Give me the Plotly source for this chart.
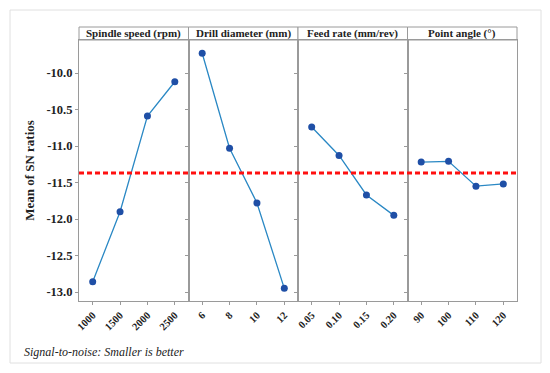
import plotly.graph_objects as go
from plotly.subplots import make_subplots

factors = ["Spindle speed (rpm)", "Drill diameter (mm)", "Feed rate (mm/rev)", "Point angle (°)"]
levels = [
    ["1000", "1500", "2000", "2500"],
    ["6", "8", "10", "12"],
    ["0.05", "0.10", "0.15", "0.20"],
    ["90", "100", "110", "120"],
]
sn_means = [
    [-12.86, -11.90, -10.59, -10.12],
    [-9.73, -11.03, -11.78, -12.95],
    [-10.74, -11.13, -11.67, -11.95],
    [-11.22, -11.21, -11.55, -11.52],
]
overall_mean = -11.37
y_ticks = [-10.0, -10.5, -11.0, -11.5, -12.0, -12.5, -13.0]

W, H = 550, 373
OFF = 8  # page body margin
L, T = 79 - OFF, 40 - OFF
plot_w, plot_h = 438, 261
R = W - L - plot_w
B = H - T - plot_h
fig = make_subplots(rows=1, cols=4, shared_yaxes=True, horizontal_spacing=0)

serif = "Liberation Serif, Times New Roman, serif"
for i in range(4):
    fig.add_trace(go.Scatter(
        x=levels[i], y=sn_means[i], mode="lines+markers",
        line=dict(color="#2a88c4", width=1.3),
        marker=dict(color="#1f4fa6", size=7),
        showlegend=False,
    ), row=1, col=i + 1)
    fig.update_xaxes(
        type="category", range=[-0.5, 3.5],
        domain=[i * 0.25, (i + 1) * 0.25],
        tickvals=levels[i], ticktext=[f"<b>{t}</b>" for t in levels[i]],
        showline=True, mirror=True, linecolor="#9a9a9a", linewidth=1,
        showgrid=False, ticks="outside", ticklen=3, tickcolor="#9a9a9a",
        tickangle=-45, tickfont=dict(family=serif, size=10.5, color="#222"),
        row=1, col=i + 1)

fig.update_yaxes(
    range=[-13.123, -9.548], tickvals=y_ticks,
    ticktext=[f"<b>{v:.1f}</b>" for v in y_ticks],
    showline=True, mirror=True, linecolor="#9a9a9a", linewidth=1,
    showgrid=False, zeroline=False, ticks="outside", ticklen=3, tickcolor="#9a9a9a",
    tickfont=dict(family=serif, size=12.5, color="#222"),
)
fig.update_yaxes(title=dict(text="<b>Mean of SN ratios</b>", font=dict(family=serif, size=13, color="#222"), standoff=8), row=1, col=1)

strip_h = 13 / plot_h
shapes = []
annotations = []
for i in range(4):
    d0, d1 = i * 0.25, (i + 1) * 0.25
    shapes.append(dict(type="rect", xref="paper", yref="paper", x0=d0, x1=d1, y0=1, y1=1 + strip_h,
                       line=dict(color="#9a9a9a", width=1), fillcolor="white", layer="below"))
    annotations.append(dict(xref="paper", yref="paper", x=(d0 + d1) / 2, y=1 + strip_h / 2,
                            xanchor="center", yanchor="middle",
                            text=f"<b>{factors[i]}</b>", showarrow=False,
                            font=dict(family=serif, size=11, color="#222")))

# overall mean dashed line
shapes.append(dict(type="line", xref="paper", yref="y", x0=0, x1=1, y0=overall_mean, y1=overall_mean,
                   line=dict(color="#ff1010", width=3, dash="5px,3px")))

# outer frame (reference pixel coords -> paper)
def px(x):
    return (x - OFF - L) / plot_w

def py(y):
    return (H - (y - OFF) - B) / plot_h

shapes.append(dict(type="rect", xref="paper", yref="paper",
                   x0=px(10), x1=px(541), y0=py(363), y1=py(10),
                   line=dict(color="#e0e0e0", width=1), layer="below"))

annotations.append(dict(xref="paper", yref="paper", x=px(22), y=py(352),
                        xanchor="left", yanchor="middle", showarrow=False,
                        text="<i>Signal-to-noise: Smaller is better</i>",
                        font=dict(family=serif, size=12, color="#222")))

fig.update_layout(
    width=W, height=H, margin=dict(l=L, r=R, t=T, b=B),
    paper_bgcolor="white", plot_bgcolor="white",
    shapes=shapes, annotations=annotations,
)
fig.write_html("out.html")
